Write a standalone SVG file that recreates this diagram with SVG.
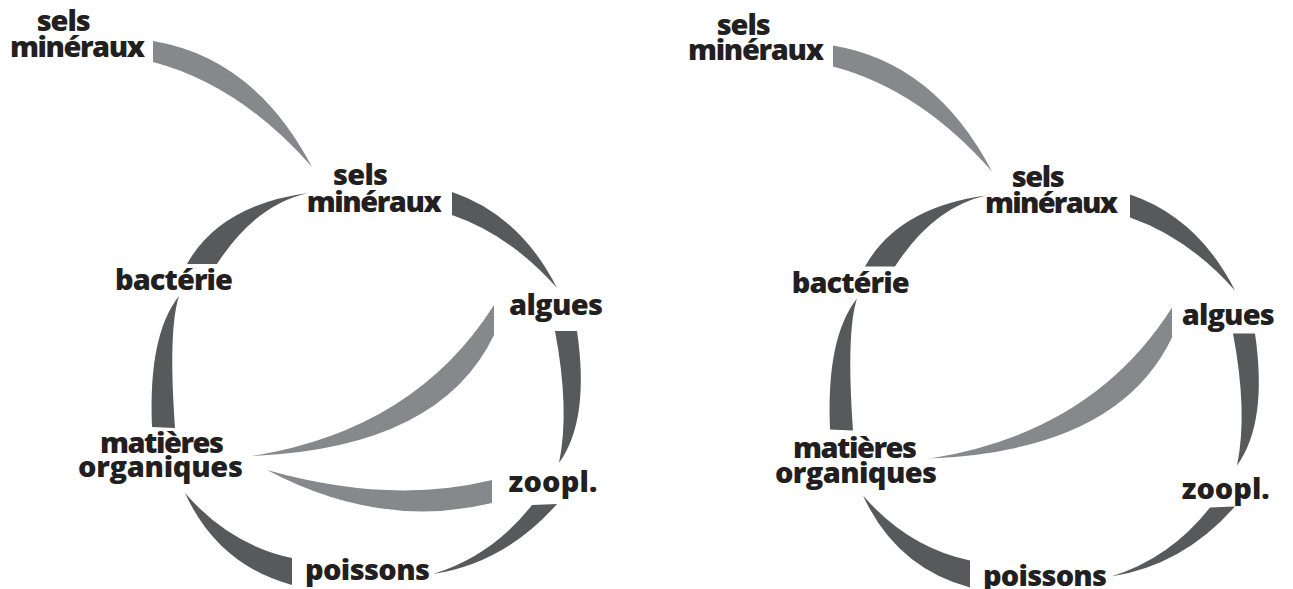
<svg xmlns="http://www.w3.org/2000/svg" width="1293" height="589" viewBox="0 0 1293 589">
<style>
.lbl{font-family:"Open Sans","Liberation Sans",sans-serif;font-weight:800;font-size:29px;fill:#231f20}
.dk{fill:#58595b}
.lt{fill:#87888b}
</style>
<rect width="1293" height="589" fill="#ffffff"/>
<g id="connectors">
  <g id="connectors-left">
    <path class="lt" d="M153,41 Q255,58 312,167 Q240,85 153,62 Z"/>
    <path class="dk" d="M452,192 Q520,215 557,288 Q510,235 452,215 Z"/>
    <path class="dk" d="M555,331 L577,331 Q590,420 559,463 Q570,410 555,331 Z"/>
    <path class="dk" d="M532,505 L557,504 Q505,563 433,574 Q492,556 532,505 Z"/>
    <path class="dk" d="M185,493 Q230,545 292,558 L292,585 Q218,565 185,493 Z"/>
    <path class="dk" d="M152,427 Q148,335 179,296 Q168,330 175,428 Z"/>
    <path class="dk" d="M187,264 Q220,205 308,193 Q255,205 217,264 Z"/>
    <path class="lt" d="M252,456 Q415,430 494,305 L494,335 Q440,448 252,456 Z"/>
    <path class="lt" d="M267,470 Q390,505 492,480 L492,503 Q380,530 267,470 Z"/>
  </g>
  <g id="connectors-right" transform="translate(678,2.5)">
    <path class="lt" transform="translate(2,2)" d="M153,41 Q255,58 312,167 Q240,85 153,62 Z"/>
    <path class="dk" d="M452,192 Q520,215 557,288 Q510,235 452,215 Z"/>
    <path class="dk" d="M555,331 L577,331 Q590,420 559,463 Q570,410 555,331 Z"/>
    <path class="dk" d="M532,505 L557,504 Q505,563 433,574 Q492,556 532,505 Z"/>
    <path class="dk" d="M185,493 Q230,545 292,558 L292,585 Q218,565 185,493 Z"/>
    <path class="dk" d="M152,427 Q148,335 179,296 Q168,330 175,428 Z"/>
    <path class="dk" d="M187,264 Q220,205 308,193 Q255,205 217,264 Z"/>
    <path class="lt" d="M252,456 Q415,430 494,305 L494,335 Q440,448 252,456 Z"/>
  </g>
</g>
<g id="node-l-sels-ext"><text class="lbl" x="36.7" y="31" textLength="54">sels</text><text class="lbl" x="10" y="56.7" textLength="135">minéraux</text></g>
<g id="node-l-sels"><text class="lbl" x="333" y="185" textLength="55">sels</text><text class="lbl" x="306.7" y="211.7" textLength="135">minéraux</text></g>
<g id="node-l-bacterie"><text class="lbl" x="115" y="290" textLength="118">bactérie</text></g>
<g id="node-l-algues"><text class="lbl" x="509" y="315" textLength="94">algues</text></g>
<g id="node-l-matieres"><text class="lbl" x="100" y="453" textLength="124">matières</text><text class="lbl" x="78" y="477" textLength="165">organiques</text></g>
<g id="node-l-zoopl"><text class="lbl" x="508.5" y="491.7" textLength="89">zoopl.</text></g>
<g id="node-l-poissons"><text class="lbl" x="305" y="580" textLength="125">poissons</text></g>
<g id="node-r-sels-ext"><text class="lbl" x="716.7" y="35" textLength="54">sels</text><text class="lbl" x="688" y="60" textLength="136">minéraux</text></g>
<g id="node-r-sels"><text class="lbl" x="1011.7" y="186.7" textLength="53">sels</text><text class="lbl" x="985" y="213.3" textLength="133">minéraux</text></g>
<g id="node-r-bacterie"><text class="lbl" x="791.7" y="292.7" textLength="118">bactérie</text></g>
<g id="node-r-algues"><text class="lbl" x="1181.7" y="325" textLength="93">algues</text></g>
<g id="node-r-matieres"><text class="lbl" x="793" y="458.3" textLength="124">matières</text><text class="lbl" x="775" y="483.3" textLength="162">organiques</text></g>
<g id="node-r-zoopl"><text class="lbl" x="1181.7" y="499.3" textLength="88">zoopl.</text></g>
<g id="node-r-poissons"><text class="lbl" x="983" y="585.5" textLength="124">poissons</text></g>
</svg>
